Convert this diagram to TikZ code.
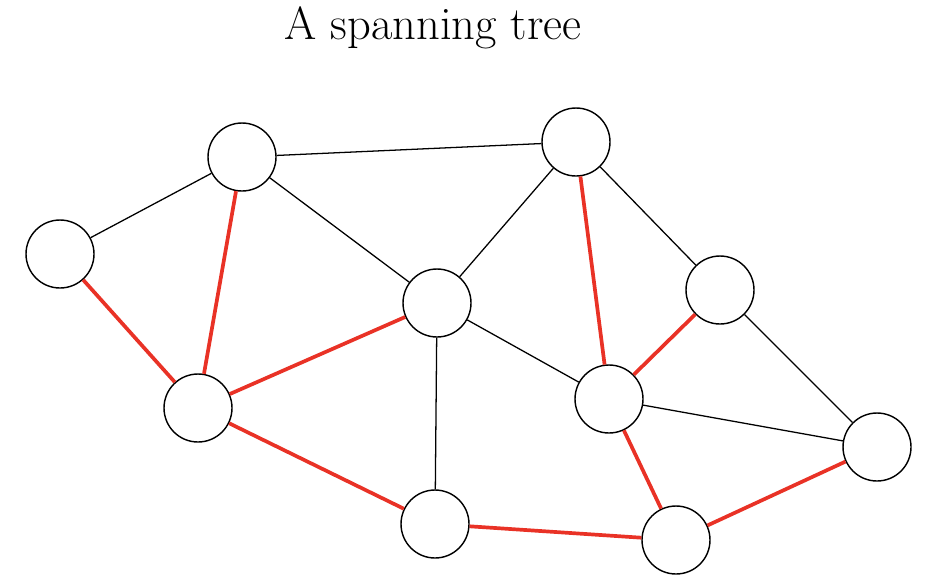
\documentclass[tikz,border=0pt]{standalone}
\usepackage{tikz}
\definecolor{treered}{RGB}{233,50,38}
\tikzset{
	vertex/.style={circle, draw, line width=0.5mm, minimum size=68pt, inner sep=0pt, fill=white},
	plain edge/.style={line width=0.45mm},
	tree edge/.style={line width=1.3mm, treered}
}

\begin{document}
\begin{tikzpicture}[x=1pt, y=-1pt]
	\useasboundingbox (0,0) rectangle (936,584);
	
	\node [anchor=base] (title) at (433,39) {\fontsize{46.5}{54}\selectfont A spanning tree};
	
	\node[vertex] (va) at (60,254) {};
	\node[vertex] (vb) at (242,157) {};
	\node[vertex] (vc) at (576,142) {};
	\node[vertex] (vd) at (437,303) {};
	\node[vertex] (ve) at (720,290) {};
	\node[vertex] (vf) at (198,408) {};
	\node[vertex] (vg) at (609,399) {};
	\node[vertex] (vh) at (877,447) {};
	\node[vertex] (vi) at (435,524) {};
	\node[vertex] (vj) at (676,540) {};
	
	\draw[plain edge] (va) -- (vb);
	\draw[plain edge] (vb) -- (vc);
	\draw[plain edge] (vb) -- (vd);
	\draw[plain edge] (vc) -- (vd);
	\draw[plain edge] (vc) -- (ve);
	\draw[plain edge] (vd) -- (vg);
	\draw[plain edge] (vd) -- (vi);
	\draw[plain edge] (vg) -- (vh);
	\draw[plain edge] (ve) -- (vh);
	
	\draw[tree edge] (va) -- (vf);
	\draw[tree edge] (vb) -- (vf);
	\draw[tree edge] (vf) -- (vd);
	\draw[tree edge] (vf) -- (vi);
	\draw[tree edge] (vi) -- (vj);
	\draw[tree edge] (vj) -- (vh);
	\draw[tree edge] (vc) -- (vg);
	\draw[tree edge] (ve) -- (vg);
	\draw[tree edge] (vg) -- (vj);
	
\end{tikzpicture}
\end{document}
